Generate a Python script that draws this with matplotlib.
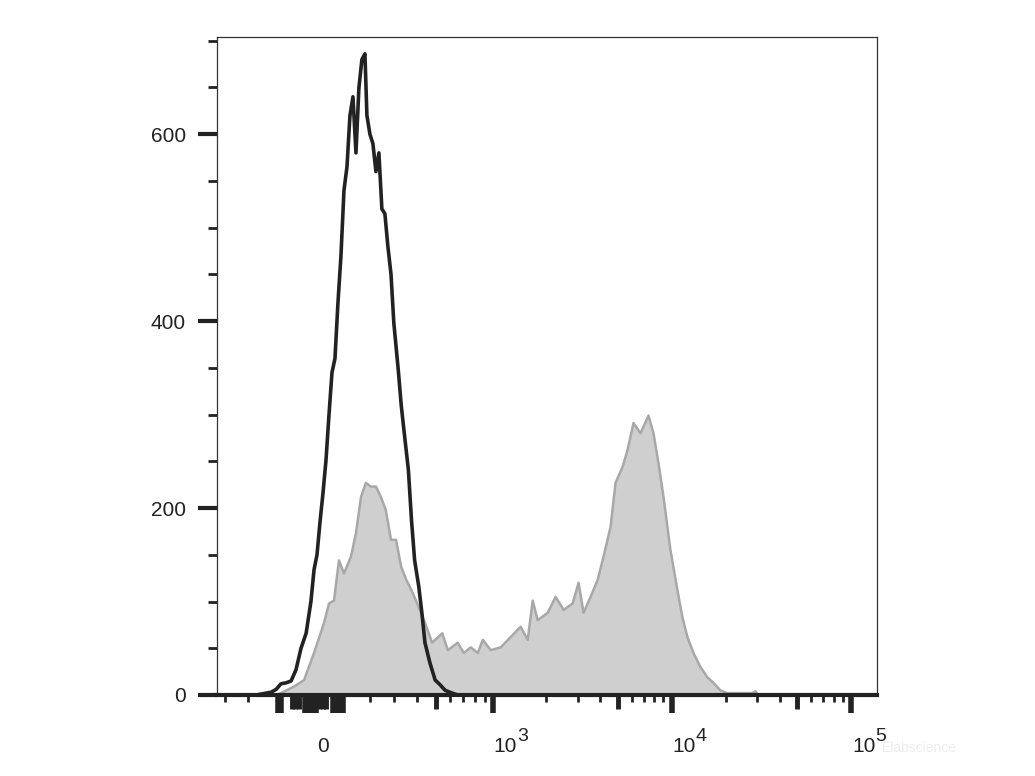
import matplotlib
matplotlib.use('Agg')
import matplotlib.pyplot as plt
from matplotlib.ticker import FixedLocator, NullFormatter

# ---- data (x = fluorescence intensity, y = count) ----
isotype_x = [-395, -208, -189, -171, -153, -136, -120, -104, -88, -73, -58, -43, -29, -20,
             -11.5, -2.9, 5.7, 14.3, 23, 31.6, 40.3, 49.1, 57.9, 66.9, 75.9, 85, 94.3,
             103.7, 113.2, 122.9, 132.8, 139.5, 149.8, 160.2, 170.9, 181.8, 193, 204.5,
             216.3, 229, 240.7, 259.7, 273, 287, 306.5, 322, 338, 360, 377, 394.7, 425,
             457.6, 484, 527, 581, 626, 139000]
isotype_y = [0, 0, 1, 2, 3, 6, 12, 13, 15, 27, 50, 66, 100, 134,
             150, 185, 216, 251, 300, 345, 360, 420, 470, 540, 565, 620, 640,
             580, 650, 680, 686, 620, 600, 590, 560, 580, 520, 515,
             480, 450, 398, 348, 310, 280, 241, 187, 144, 116, 88, 56, 34,
             16, 12, 5, 2, 0, 0]

stained_x = [-136, -120, -79, -49, -20, 8.6, 23, 37.4, 52, 66.9, 88, 103.7, 120, 136, 153,
             171, 189, 208, 229, 250, 273, 297, 322, 360, 395, 438, 506, 547, 626, 680,
             747, 820, 876, 973, 1109, 1263, 1438, 1575, 1680, 1792, 2038, 2258, 2504,
             2811, 3033, 3235, 3539, 3873, 4180, 4574, 4874, 5331, 5685, 6138, 6716, 7437,
             7930, 8454, 9014, 9857, 10780, 11490, 12250, 13240, 14470, 15820, 17090,
             18690, 20430, 25740, 28150, 29250, 30380]
stained_y = [0, 2, 9, 16, 45, 77, 98, 101, 144, 130, 148, 173, 212, 227, 223,
             223, 212, 198, 166, 166, 137, 123, 112, 94, 77, 56, 66, 48, 56, 45,
             51, 45, 59, 48, 51, 62, 73, 59, 101, 80, 88, 105, 91,
             98, 120, 88, 105, 123, 148, 180, 227, 244, 262, 291, 280, 299,
             280, 248, 212, 155, 112, 83, 62, 45, 30, 19, 13,
             5, 2, 2, 2, 4, 0]

# axis ticks (biexponential display)
x_long = [-130, -120, -45, -35, -25, -15, 35, 45, 55, 65, 1000, 10000, 100000]
x_medium = [-85, -75, -65, -5, 5, 15, 460, 5000, 50000]
x_short = [-350, -240, 150, 240, 350, 560, 670, 790, 900,
           2000, 3000, 4000, 6000, 7000, 8000, 9000,
           20000, 30000, 40000, 60000, 70000, 80000, 90000]
x_label_vals = [0, 1000, 10000, 100000]
x_label_base = ['0', '10', '10', '10']
x_label_exp = ['', '3', '4', '5']

y_major = [0, 200, 400, 600]
y_minor = [50, 100, 150, 250, 300, 350, 450, 500, 550, 650, 700]

plt.rcParams['font.family'] = ['Liberation Sans', 'DejaVu Sans']

fig = plt.figure(figsize=(10.35, 7.76), dpi=100)
ax = fig.add_axes([217 / 1035, 1 - 695 / 776, 660 / 1035, 658 / 776])
ax.set_xscale('asinh', linear_width=224)

ax.fill_between(stained_x, stained_y, 0, color='#cfcfcf', lw=0, zorder=1)
ax.plot(stained_x, stained_y, color='#a8a8a8', lw=1.8, zorder=2)
ax.plot(isotype_x, isotype_y, color='#222222', lw=2.6, zorder=3)

ax.set_xlim(-395, 139000)
ax.set_ylim(0, 704)

# y axis
ax.yaxis.set_major_locator(FixedLocator(y_major))
ax.yaxis.set_minor_locator(FixedLocator(y_minor))
ax.tick_params(axis='y', which='major', length=13.5, width=3, color='#222222',
               labelsize=15, labelcolor='#222222', pad=9)
ax.tick_params(axis='y', which='minor', length=6.5, width=2, color='#222222')

# x axis
ax.xaxis.set_major_locator(FixedLocator(x_long))
ax.xaxis.set_minor_locator(FixedLocator(sorted(x_short + x_medium)))
ax.xaxis.set_major_formatter(NullFormatter())
ax.xaxis.set_minor_formatter(NullFormatter())
ax.tick_params(axis='x', which='major', length=13, width=4, color='#222222')
ax.tick_params(axis='x', which='minor', length=5, width=2, color='#222222')

minor_locs = ax.xaxis.get_minorticklocs()
for loc, tk in zip(minor_locs, ax.xaxis.get_minor_ticks(len(minor_locs))):
    if loc in x_medium:
        tk.tick1line.set_markersize(10)
        tk.tick1line.set_markeredgewidth(3.5)

for val, base, ex in zip(x_label_vals, x_label_base, x_label_exp):
    if ex == '':
        ax.annotate(base, xy=(val, 0), xycoords=('data', 'axes fraction'),
                    xytext=(1.5, -41), textcoords='offset points',
                    ha='center', va='baseline', fontsize=15, color='#222222')
    else:
        ax.annotate(base, xy=(val, 0), xycoords=('data', 'axes fraction'),
                    xytext=(0.5, -41), textcoords='offset points',
                    ha='left', va='baseline', fontsize=15, color='#222222')
        ax.annotate(ex, xy=(val, 0), xycoords=('data', 'axes fraction'),
                    xytext=(17.5, -33), textcoords='offset points',
                    ha='left', va='baseline', fontsize=14, color='#222222')

for side in ['top', 'right', 'left']:
    ax.spines[side].set_linewidth(0.9)
    ax.spines[side].set_color('#333333')
ax.spines['bottom'].set_linewidth(3)
ax.spines['bottom'].set_color('#222222')

# faint watermark, kept clear of the 10^5 label
fig.text(882 / 1035, 1 - 752 / 776, 'Elabscience', fontsize=10, color='#eeeeee')

fig.savefig('out.png', dpi=100)
